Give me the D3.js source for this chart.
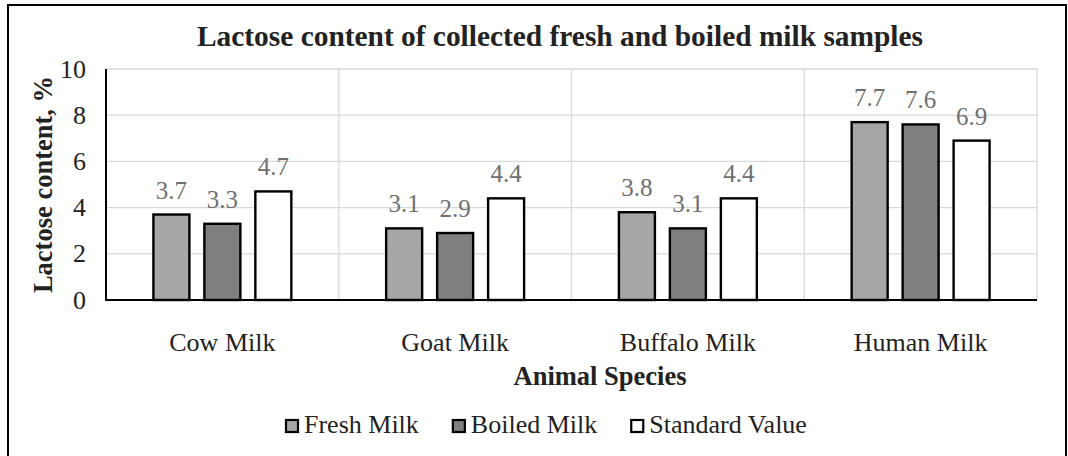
<!DOCTYPE html>
<html>
<head>
<meta charset="utf-8">
<script src="https://cdn.jsdelivr.net/npm/d3@7"></script>
<style>
  html, body { margin: 0; padding: 0; background: #fff; }
  svg { display: block; font-family: "Liberation Serif", "Times New Roman", serif; }
</style>
</head>
<body>
<svg id="chart" width="1068" height="456"></svg>
<script>
// Lactose content (%) per species, three measurement series
const categories = ["Cow Milk", "Goat Milk", "Buffalo Milk", "Human Milk"];
const seriesNames = ["Fresh Milk", "Boiled Milk", "Standard Value"];
const freshMilk = [3.7, 3.1, 3.8, 7.7];
const boiledMilk = [3.3, 2.9, 3.1, 7.6];
const standardValue = [4.7, 4.4, 4.4, 6.9];
const yTicks = [0, 2, 4, 6, 8, 10];

const seriesValues = [freshMilk, boiledMilk, standardValue];
const seriesFill = ["#a6a6a6", "#7f7f7f", "#ffffff"];

const svg = d3.select("#chart");
const plot = { left: 106, right: 1037, top: 69, bottom: 300 };

// outer frame
svg.append("rect")
  .attr("x", 8).attr("y", 5)
  .attr("width", 1058).attr("height", 460)
  .attr("fill", "#fff").attr("stroke", "#000").attr("stroke-width", 2);

const x0 = d3.scaleBand().domain(categories).range([plot.left, plot.right]).padding(0);
const x1 = d3.scaleBand().domain(seriesNames).range([0, x0.bandwidth()])
  .paddingInner(0.294).paddingOuter(0.93);
const y = d3.scaleLinear().domain([0, 10]).range([plot.bottom, plot.top]);

// horizontal gridlines
svg.append("g").selectAll("line").data(yTicks.filter(d => d > 0)).join("line")
  .attr("x1", plot.left).attr("x2", plot.right)
  .attr("y1", d => y(d)).attr("y2", d => y(d))
  .attr("stroke", "#d9d9d9").attr("stroke-width", 1.3);

// vertical gridlines at category boundaries
const bounds = categories.map(c => x0(c) + x0.bandwidth());
svg.append("g").selectAll("line").data(bounds).join("line")
  .attr("x1", d => d).attr("x2", d => d)
  .attr("y1", plot.top).attr("y2", plot.bottom)
  .attr("stroke", "#d9d9d9").attr("stroke-width", 1.3);

// y tick labels
svg.append("g").selectAll("text").data(yTicks).join("text")
  .attr("x", plot.left - 20).attr("y", d => y(d)).attr("dy", "0.33em")
  .attr("text-anchor", "end").attr("font-size", 26).attr("fill", "#222")
  .text(d => d);

// bars
const rows = categories.map((c, i) => ({
  cat: c,
  vals: seriesNames.map((s, k) => ({ s, k, v: seriesValues[k][i] }))
}));

const groups = svg.append("g").selectAll("g").data(rows).join("g")
  .attr("transform", d => `translate(${x0(d.cat)},0)`);

groups.selectAll("rect").data(d => d.vals).join("rect")
  .attr("x", d => x1(d.s)).attr("width", x1.bandwidth())
  .attr("y", d => y(d.v)).attr("height", d => y(0) - y(d.v))
  .attr("fill", d => seriesFill[d.k]).attr("stroke", "#000").attr("stroke-width", 2.4);

groups.selectAll("text").data(d => d.vals).join("text")
  .attr("x", d => x1(d.s) + x1.bandwidth() / 2)
  .attr("y", d => y(d.v) - 16)
  .attr("text-anchor", "middle").attr("font-size", 25).attr("fill", "#6f6f6f")
  .text(d => d.v.toFixed(1));

// axis lines
svg.append("line").attr("x1", plot.left).attr("x2", plot.left)
  .attr("y1", plot.top).attr("y2", plot.bottom)
  .attr("stroke", "#000").attr("stroke-width", 2);
svg.append("line").attr("x1", plot.left - 1).attr("x2", plot.right)
  .attr("y1", plot.bottom).attr("y2", plot.bottom)
  .attr("stroke", "#000").attr("stroke-width", 2);

// category labels
svg.append("g").selectAll("text").data(categories).join("text")
  .attr("x", d => x0(d) + x0.bandwidth() / 2).attr("y", 351)
  .attr("text-anchor", "middle").attr("font-size", 26).attr("fill", "#222")
  .text(d => d);

// title
svg.append("text").attr("x", 560).attr("y", 46)
  .attr("text-anchor", "middle").attr("font-size", 29.4).attr("font-weight", "bold")
  .attr("fill", "#222")
  .text("Lactose content of collected fresh and boiled milk samples");

// axis titles
svg.append("text").attr("x", 600).attr("y", 385)
  .attr("text-anchor", "middle").attr("font-size", 26.5).attr("font-weight", "bold")
  .attr("fill", "#222").text("Animal Species");

svg.append("text")
  .attr("transform", `translate(52,${(plot.top + plot.bottom) / 2}) rotate(-90)`)
  .attr("text-anchor", "middle").attr("font-size", 26.5).attr("font-weight", "bold")
  .attr("fill", "#222").text("Lactose content, %");

// legend
const legend = svg.append("g");
let lx = 285;
seriesNames.forEach((name, k) => {
  legend.append("rect").attr("x", lx + 1).attr("y", 420)
    .attr("width", 12).attr("height", 12)
    .attr("fill", seriesFill[k]).attr("stroke", "#000").attr("stroke-width", 2.2);
  const t = legend.append("text").attr("x", lx + 19).attr("y", 433)
    .attr("font-size", 26).attr("fill", "#222").text(name);
  lx += 19 + t.node().getComputedTextLength() + 33;
});
</script>
</body>
</html>
